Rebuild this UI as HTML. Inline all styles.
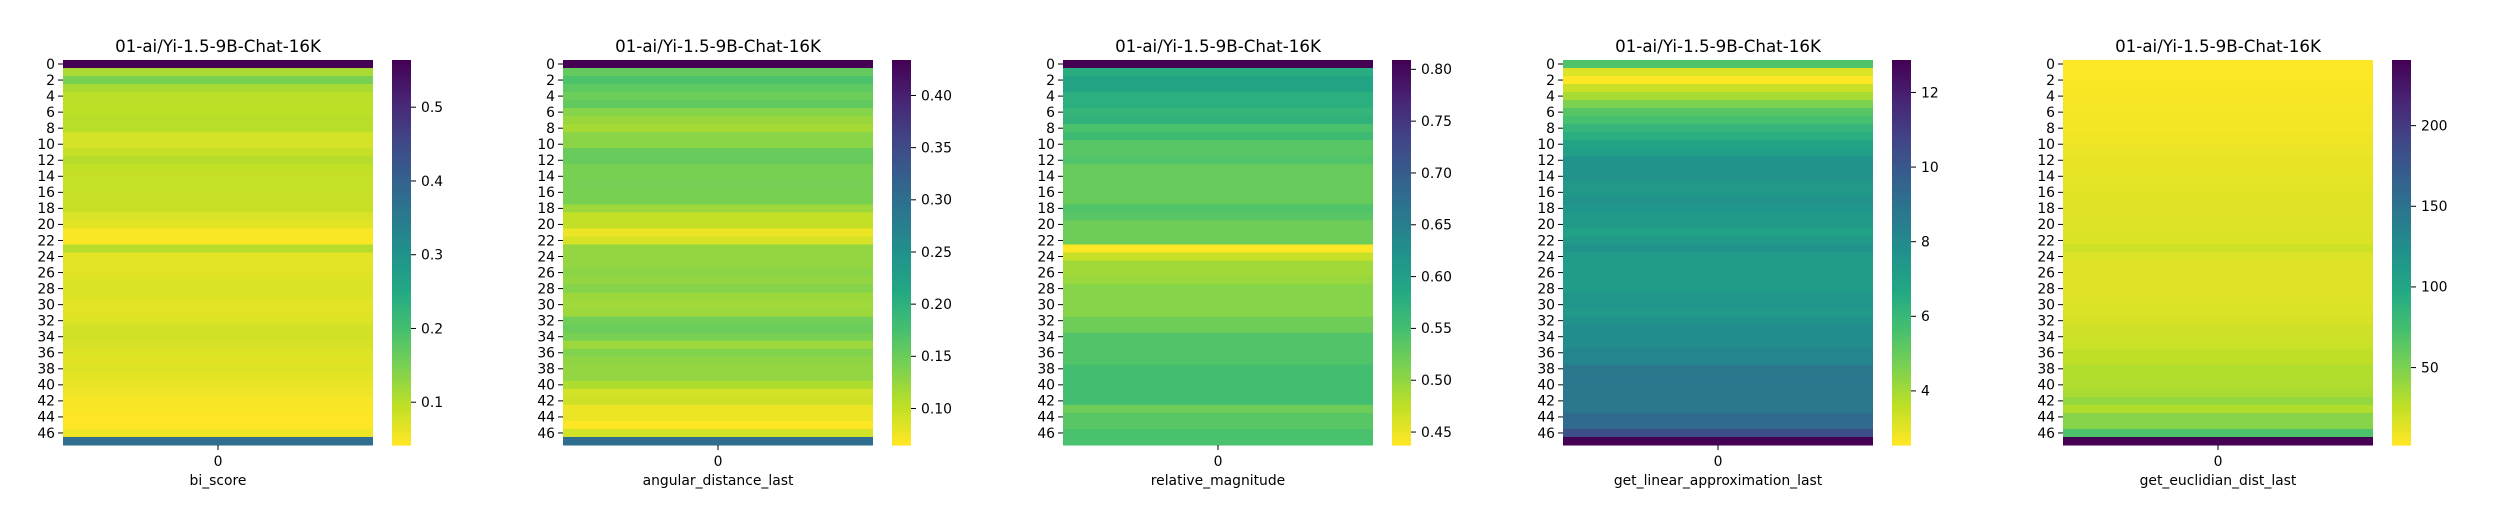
<!DOCTYPE html>
<html><head><meta charset="utf-8"><style>
html,body{margin:0;padding:0;background:#fff;}
svg text{font-family:"DejaVu Sans","Liberation Sans",sans-serif;fill:#000;}
</style></head><body>
<svg id="chart" width="2500" height="500" xmlns="http://www.w3.org/2000/svg"></svg>
<script>
const modelTitle = "01-ai/Yi-1.5-9B-Chat-16K";
const metricNames = ["bi_score","angular_distance_last","relative_magnitude","get_linear_approximation_last","get_euclidian_dist_last"];
const biScore = [0.564,0.11,0.148,0.11,0.095,0.095,0.095,0.098,0.098,0.076,0.074,0.088,0.1,0.09,0.088,0.088,0.088,0.086,0.086,0.07,0.065,0.045,0.045,0.1,0.063,0.063,0.065,0.068,0.07,0.068,0.063,0.065,0.068,0.078,0.078,0.073,0.068,0.065,0.068,0.062,0.058,0.055,0.048,0.045,0.042,0.042,0.055,0.377];
const angularDist = [0.434,0.153,0.17,0.158,0.148,0.155,0.132,0.122,0.115,0.13,0.13,0.152,0.152,0.14,0.14,0.142,0.14,0.14,0.12,0.098,0.098,0.075,0.088,0.125,0.125,0.125,0.13,0.125,0.133,0.12,0.118,0.12,0.145,0.15,0.14,0.12,0.135,0.127,0.125,0.125,0.11,0.09,0.092,0.075,0.075,0.065,0.09,0.303];
const relMagnitude = [0.809,0.578,0.593,0.593,0.575,0.575,0.565,0.57,0.545,0.555,0.535,0.535,0.54,0.525,0.525,0.525,0.525,0.525,0.54,0.535,0.52,0.52,0.52,0.4375,0.47,0.49,0.49,0.495,0.505,0.505,0.505,0.505,0.52,0.52,0.54,0.54,0.54,0.54,0.55,0.55,0.55,0.55,0.55,0.52,0.535,0.535,0.545,0.545];
const linApprox = [5.44,3.07,2.55,3.4,3.9,4.6,5.3,5.6,6.1,6.4,6.9,7.1,7.6,7.6,7.6,7.4,7.4,7.6,7.5,7.3,7.3,7.0,7.3,7.6,7.2,7.2,7.2,7.2,7.2,7.5,7.5,7.3,7.6,7.9,7.9,7.9,8.2,8.2,8.8,8.8,8.8,8.8,8.8,8.8,9.3,9.3,10.4,12.87];
const euclidDist = [2,2.5,3,3.5,4,4.5,5,5.5,6,7,8,9,10,10.5,11,12,12.5,13,13,13.5,14,14,15,20,14,13,13,13,13,13.5,14,14.5,16,20,20,21,25,25,30,30,31,33,40,30,45,45,70,240.7];
const seriesList = [biScore, angularDist, relMagnitude, linApprox, euclidDist];
const cbTicks = [[0.1,0.2,0.3,0.4,0.5],[0.10,0.15,0.20,0.25,0.30,0.35,0.40],[0.45,0.50,0.55,0.60,0.65,0.70,0.75,0.80],[4,6,8,10,12],[50,100,150,200]];
const cbTickLabels = [["0.1","0.2","0.3","0.4","0.5"],["0.10","0.15","0.20","0.25","0.30","0.35","0.40"],["0.45","0.50","0.55","0.60","0.65","0.70","0.75","0.80"],["4","6","8","10","12"],["50","100","150","200"]];
const yTickLabels = [0,2,4,6,8,10,12,14,16,18,20,22,24,26,28,30,32,34,36,38,40,42,44,46];

const VIR = [[68,1,84],[72,36,117],[65,68,135],[53,95,141],[42,120,142],[33,145,140],[34,168,132],[68,191,112],[122,209,81],[189,223,38],[253,231,37]];
function viridis(t){t=Math.max(0,Math.min(1,t));const p=t*10,i=Math.min(9,Math.floor(p)),f=p-i;const a=VIR[i],b=VIR[i+1];return `rgb(${Math.round(a[0]+(b[0]-a[0])*f)},${Math.round(a[1]+(b[1]-a[1])*f)},${Math.round(a[2]+(b[2]-a[2])*f)})`;}
const NS="http://www.w3.org/2000/svg";
const svg=document.getElementById('chart');
function mk(tag,attrs,parent){const e=document.createElementNS(NS,tag);for(const k in attrs)e.setAttribute(k,attrs[k]);(parent||svg).appendChild(e);return e;}

const HX0=63,HX1=373,HY0=60,HY1=445,CBX0=392,CBX1=411;
seriesList.forEach((vals,p)=>{
  const ox=p*500;
  const g=mk('g',{transform:`translate(${ox},0)`});
  
  
  const vmin=Math.min(...vals),vmax=Math.max(...vals);
  const n=vals.length,rh=(HY1-HY0)/n;
  const yScale=i=>HY0+i*rh;
  const cScale=v=>viridis(1-(v-vmin)/(vmax-vmin));
  vals.forEach((v,i)=>{
    const r=mk('rect',{x:HX0,y:yScale(i),width:HX1-HX0,height:rh+0.5,fill:cScale(v)},g);
    
    
  });
  const t=mk('text',{x:(HX0+HX1)/2,y:52,'text-anchor':'middle','font-size':'16.7px'},g);t.textContent=modelTitle;
  
  
  yTickLabels.forEach(lab=>{
    const y=yScale(lab)+rh/2;
    mk('line',{x1:HX0-5,x2:HX0,y1:y,y2:y,stroke:'#000','stroke-width':1},g);
    const tx=mk('text',{x:HX0-8,y:y+4.8,'text-anchor':'end','font-size':'13.9px'},g);tx.textContent=lab;
    
    
  });
  const cx=(HX0+HX1)/2;
  mk('line',{x1:cx,x2:cx,y1:HY1,y2:HY1+5,stroke:'#000','stroke-width':1},g);
  const xt=mk('text',{x:cx,y:466,'text-anchor':'middle','font-size':'13.9px'},g);xt.textContent='0';
  
  
  const xl=mk('text',{x:cx,y:485,'text-anchor':'middle','font-size':'13.9px'},g);xl.textContent=metricNames[p];
  
  
  // colorbar
  const steps=120,sh=(HY1-HY0)/steps;
  const cb=mk('g',{},g);
  
  
  for(let s=0;s<steps;s++){mk('rect',{x:CBX0,y:HY0+s*sh,width:CBX1-CBX0,height:sh+0.6,fill:viridis(s/(steps-1))},cb);}
  const cbY=v=>HY1-(v-vmin)/(vmax-vmin)*(HY1-HY0);
  cbTicks[p].forEach((v,k)=>{
    const y=cbY(v);
    mk('line',{x1:CBX1,x2:CBX1+5,y1:y,y2:y,stroke:'#000','stroke-width':1},cb);
    const lt=mk('text',{x:CBX1+10,y:y+4.8,'font-size':'13.9px'},cb);lt.textContent=cbTickLabels[p][k];
    
    
  });
});
</script>
</body></html>
